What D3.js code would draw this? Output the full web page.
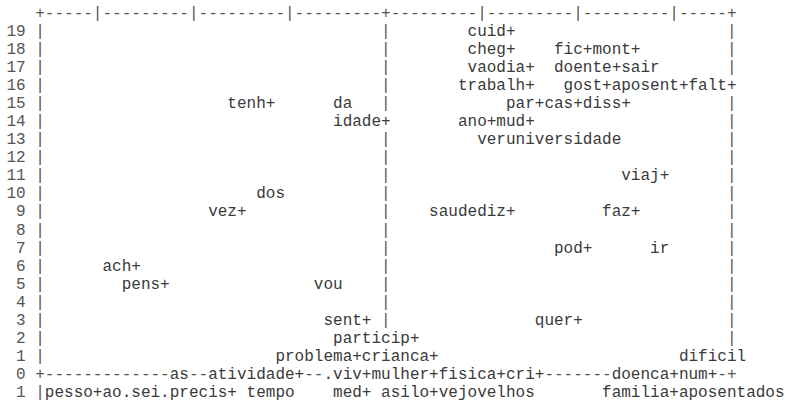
<!DOCTYPE html>
<meta charset="utf-8">
<title>AFC - texto</title>
<style>
body { margin: 0; background: #fff; }
svg text {
  font-family: "Liberation Mono", "DejaVu Sans Mono", monospace;
  font-size: 16px;
  fill: #3a3a3a;
  white-space: pre;
}
svg .frame text { fill: #555; }
</style>
<svg width="786" height="402"></svg>
<script src="https://d3js.org/d3.v7.min.js"></script>
<script>

// rows of the text plot, top to bottom (last one is printed as "1")
var rowLabels = ["19","18","17","16","15","14","13","12","11","10"," 9"," 8"," 7"," 6"," 5"," 4"," 3"," 2"," 1"," 0"," 1"];
var rowValues = [19,18,17,16,15,14,13,12,11,10,9,8,7,6,5,4,3,2,1,0,-1];

// words and their cell (column, row)
var words = ["cuid+","cheg+","fic+mont+","vaodia+","doente+sair","trabalh+","gost+aposent+falt+",
             "tenh+","da","par+cas+diss+","idade+","ano+mud+","veruniversidade","viaj+","dos",
             "vez+","saudediz+","faz+","pod+","ir","ach+","pens+","vou","sent+","quer+",
             "particip+","problema+crianca+","dificil",
             "as","atividade+",".viv+","mulher+","fisica+","cri+","doenca+","num+",
             "pesso+ao.sei.precis+","tempo","med+","asilo+vejovelhos","familia+aposentados"];
var wordCol = [48,48,57,48,57,47,58,
               23,34,52,34,47,49,64,26,
               21,44,62,57,67,10,12,32,33,55,
               34,28,70,
               17,21,33,38,45,52,63,70,
               4,25,34,39,62];
var wordRow = [19,18,18,17,17,16,16,
               15,15,15,14,14,13,11,10,
               9,9,9,7,7,6,5,5,3,3,
               2,1,1,
               0,0,0,0,0,0,0,0,
               -1,-1,-1,-1,-1];

// frame: left/right border columns, middle axis, tick columns on the top edge
var leftCol = 3, midCol = 39, rightCol = 75;
var topTicks = [9,19,29,49,59,69];
var nCols = 81;

var svg = d3.select("svg");
var x = d3.scaleLinear().domain([0, nCols]).range([6.4, 6.4 + nCols * 9.607]);
var y = d3.scaleLinear().domain([0, rowValues.length]).range([17.9, 17.9 + rowValues.length * 18.05]);
var line = function(v) { return rowValues.indexOf(v) + 1; };   // line 0 = top border

// character grid for the frame
var grid = d3.range(rowValues.length + 1).map(function() {
  return d3.range(nCols).map(function() { return " "; });
});
// top border
for (var c = leftCol; c <= rightCol; c++) grid[0][c] = "-";
grid[0][leftCol] = "+"; grid[0][midCol] = "+"; grid[0][rightCol] = "+";
topTicks.forEach(function(c) { grid[0][c] = "|"; });
rowValues.forEach(function(v, i) {
  var g = grid[i + 1];
  rowLabels[i].split("").forEach(function(ch, k) { g[k] = ch; });
  if (v === 0) {
    for (var c = leftCol; c <= rightCol; c++) g[c] = "-";
    g[leftCol] = "+"; g[rightCol] = "+";
  } else {
    g[leftCol] = "|";
    if (v > 0) { g[midCol] = "|"; g[rightCol] = "|"; }
  }
});
// words cover the frame characters under them
words.forEach(function(w, i) {
  var g = grid[line(wordRow[i])];
  for (var k = 0; k < w.length; k++) if (wordCol[i] + k < nCols) g[wordCol[i] + k] = " ";
});

// cut the frame into runs of non-blank characters
var runs = [];
grid.forEach(function(g, li) {
  var start = -1;
  for (var k = 0; k <= nCols; k++) {
    var blank = k === nCols || g[k] === " ";
    if (!blank && start < 0) start = k;
    if (blank && start >= 0) {
      runs.push({line: li, col: start, text: g.slice(start, k).join("")});
      start = -1;
    }
  }
});

var cellsX = function(col, s) {
  return s.split("").map(function(ch, k) { return x(col + k); }).join(" ");
};

svg.append("g").attr("class", "frame")
  .selectAll("text")
  .data(runs)
  .enter().append("text")
    .attr("y", function(d) { return y(d.line); })
    .attr("x", function(d) { return cellsX(d.col, d.text); })
    .text(function(d) { return d.text; });

svg.append("g").attr("class", "words")
  .selectAll("text")
  .data(words)
  .enter().append("text")
    .attr("y", function(d, i) { return y(line(wordRow[i])); })
    .attr("x", function(d, i) { return cellsX(wordCol[i], d); })
    .text(function(d) { return d; });

</script>
